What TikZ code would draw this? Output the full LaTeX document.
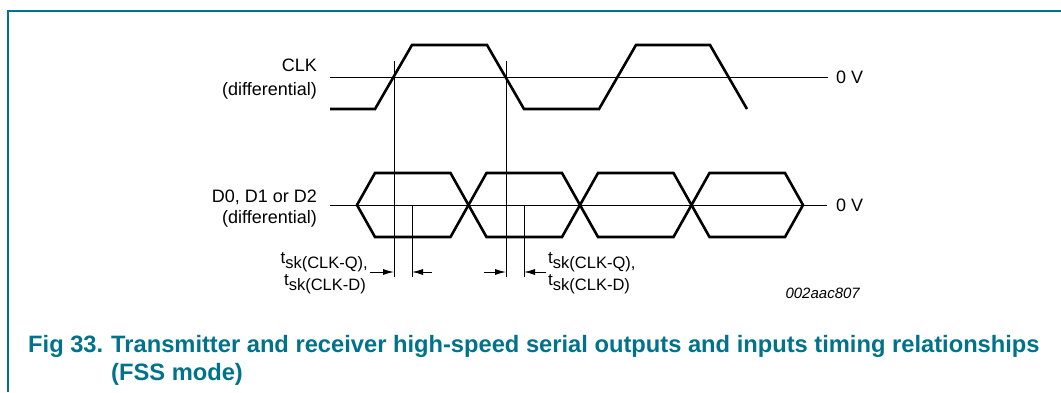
\documentclass[tikz,border=0pt]{standalone}
\usepackage{fontspec}
\setmainfont{Liberation Sans}
\usetikzlibrary{arrows.meta,positioning}
\definecolor{nxpteal}{RGB}{0,114,139}
\newcommand{\tsk}[2]{t\raisebox{-5pt}{\fontsize{16.5}{16.5}\selectfont sk(CLK-#1)#2}}

\begin{document}
\begin{tikzpicture}[x=1pt,y=-1pt,
wave/.style={line width=2.6pt, line join=miter},
guide/.style={line width=0.9pt},
lbl/.style={font=\fontsize{18}{24}\selectfont, inner sep=0pt},
skl/.style={font=\fontsize{17}{17}\selectfont, inner sep=0pt},
skew/.style={-{Latex[length=11pt,width=6pt]}, line width=0.9pt},
figcap/.style={font=\bfseries\fontsize{23.7}{28}\selectfont, text=nxpteal, inner sep=0pt, anchor=base west}
]
\useasboundingbox (0,0) rectangle (1061,392);
\draw[nxpteal, line width=1.2pt] (8,392) -- (8,11) -- (1061,11);

% signal names
\node[lbl, align=right, anchor=base east] (clk) at (317,95) {CLK\\(differential)};
\node[lbl, align=right, anchor=base east, font=\fontsize{18}{21}\selectfont] (data) at (317,223) {D0, D1 or D2\\(differential)};

% zero levels
\node[lbl, anchor=west] (zclk) at (836,77) {0 V};
\node[lbl, anchor=west] (zdata) at (836,205) {0 V};
\draw[guide] (330,77) -- (828,77);
\draw[guide] (330,205) -- (827,205);

% clock
\draw[wave] (330,109) -- (375,109) -- (412,45) -- (487,45) -- (524,109)
  -- (599,109) -- (636,45) -- (710,45) -- (747,109);

% data eyes
\foreach \i in {0,...,3}{
  \pgfmathsetmacro{\a}{357+111.5*\i}
  \pgfmathsetmacro{\b}{\a+111.5}
  \draw[wave] (\a,205) -- (\a+18,173) -- (\b-18,173) -- (\b,205)
    -- (\b-18,237) -- (\a+18,237) -- cycle;
}

% skew markers
\coordinate (e1) at (394,61);
\coordinate (e2) at (506,61);
\coordinate (d1) at (412,205);
\coordinate (d2) at (524,205);
\draw[guide] (e1) -- (e1 |- 0,277);
\draw[guide] (e2) -- (e2 |- 0,277);
\draw[guide] (d1) -- (d1 |- 0,277);
\draw[guide] (d2) -- (d2 |- 0,277);
\draw[skew] (370,272) -- (e1 |- 0,272);
\draw[skew] (432,272) -- (d1 |- 0,272);
\draw[skew] (484,272) -- (e2 |- 0,272);
\draw[skew] (546,272) -- (d2 |- 0,272);

\node[skl, anchor=base east] (skl1) at (368,263) {\tsk{Q}{,}};
\node[skl, anchor=base east] (skl2) at (366,285) {\tsk{D}{}};
\node[skl, anchor=base west] (skr1) at (548,263) {\tsk{Q}{,}};
\node[skl, anchor=base west] (skr2) at (548,285) {\tsk{D}{}};

\node[lbl, anchor=east, font=\itshape\fontsize{15}{15}\selectfont] (code) at (860,293) {002aac807};

% caption
\node[figcap] (fig) at (28,352) {Fig 33.};
\node[figcap] (title) at (111,352) {Transmitter and receiver high-speed serial outputs and inputs timing relationships};
\node[figcap] (title2) at (111,380) {(FSS mode)};
\end{tikzpicture}
\end{document}
